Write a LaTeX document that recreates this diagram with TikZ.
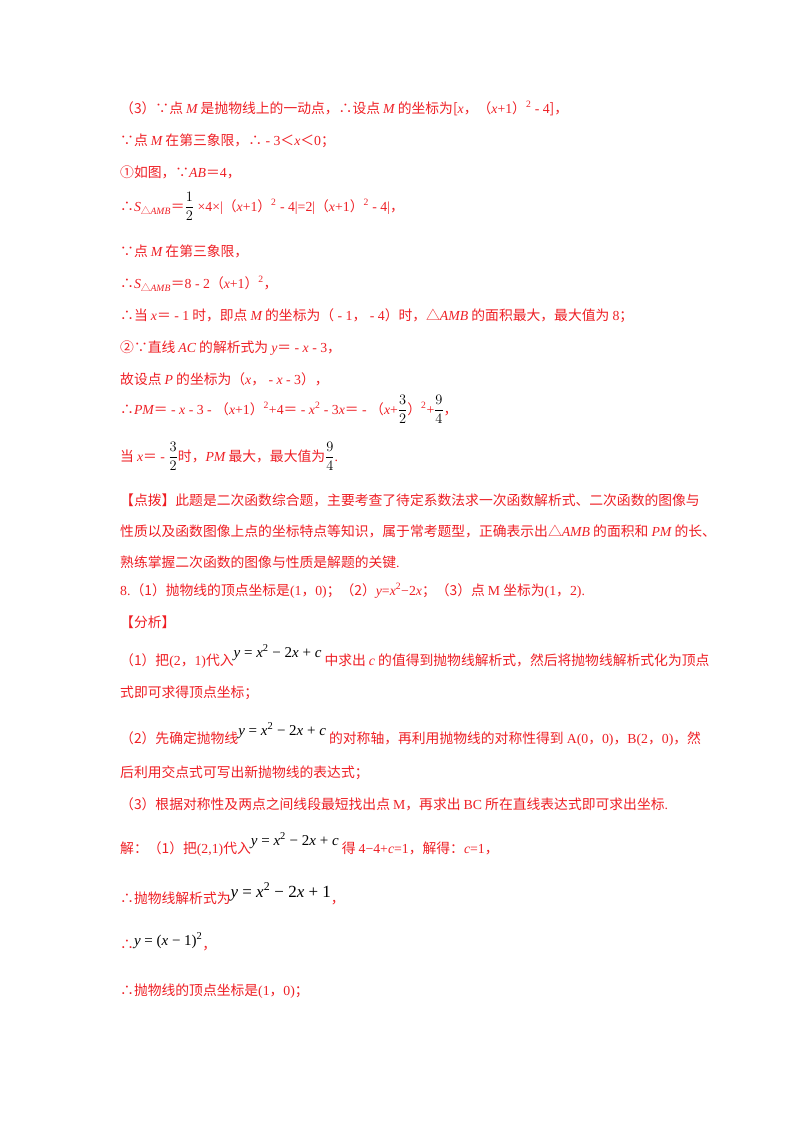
\documentclass[tikz,border=0pt]{standalone}
\usepackage{amsmath}
\usepackage{fontspec}
\setmainfont{Noto Sans CJK SC}
\newfontfamily\ti{Liberation Serif}
\newcommand{\iv}[1]{{\ti\itshape #1}}
\newcommand{\rmn}[1]{{\ti #1}}
\newcommand{\bk}[1]{{\color{black}#1}}
\newcommand{\eqc}[1]{{\color{black}\ti\fontsize{15}{16}\selectfont #1}}
\newcommand{\samb}{\iv{S}\textsubscript{△\ti\itshape AMB}}
\definecolor{rd}{RGB}{238,30,36}
\begin{document}
\begin{tikzpicture}[x=1pt,y=-1pt]
\useasboundingbox (0,0) rectangle (800,1132);
\tikzset{ln/.style={anchor=base west,inner sep=0pt,text=rd,font=\fontsize{13.8}{16}\selectfont}}
\node[ln] (l1) at (120,113) {（3）∵点 \iv{M} 是抛物线上的一动点，∴设点 \iv{M} 的坐标为[\iv{x}，（\iv{x}\rmn{+1}）\rmn{\textsuperscript{2} - 4}]，};
\node[ln] (l2) at (120,145) {∵点 \iv{M} 在第三象限，∴\rmn{ - 3}＜\iv{x}＜\rmn{0}；};
\node[ln] (l3) at (120,177) {①如图，∵\iv{AB}＝\rmn{4}，};
\node[ln] (l4) at (120,211) {∴\samb＝\bk{$\dfrac{1}{2}$}\rmn{ ×4×|}（\iv{x}\rmn{+1}）\rmn{\textsuperscript{2} - 4|=2|}（\iv{x}\rmn{+1}）\rmn{\textsuperscript{2} - 4|}，};
\node[ln] (l5) at (120,256) {∵点 \iv{M} 在第三象限，};
\node[ln] (l6) at (120,288) {∴\samb＝\rmn{8 - 2}（\iv{x}\rmn{+1}）\rmn{\textsuperscript{2}}，};
\node[ln] (l7) at (120,320) {∴当 \iv{x}＝\rmn{ - 1} 时，即点 \iv{M} 的坐标为（\rmn{ - 1}，\rmn{ - 4}）时，△\iv{AMB} 的面积最大，最大值为 \rmn{8}；};
\node[ln] (l8) at (120,352) {②∵直线 \iv{AC} 的解析式为 \iv{y}＝\rmn{ - }\iv{x}\rmn{ - 3}，};
\node[ln] (l9) at (120,384) {故设点 \iv{P} 的坐标为（\iv{x}，\rmn{ - }\iv{x}\rmn{ - 3}），};
\node[ln] (l10) at (120,414) {∴\iv{PM}＝\rmn{ - }\iv{x}\rmn{ - 3 - }（\iv{x}\rmn{+1}）\rmn{\textsuperscript{2}+4}＝\rmn{ - }\iv{x}\rmn{\textsuperscript{2} - 3}\iv{x}＝\rmn{ - }（\iv{x}\rmn{+}\bk{$\dfrac{3}{2}$}）\rmn{\textsuperscript{2}+}\bk{$\dfrac{9}{4}$}，};
\node[ln] (l11) at (120,461) {当 \iv{x}＝\rmn{ - }\bk{$\dfrac{3}{2}$}时，\iv{PM} 最大，最大值为\bk{$\dfrac{9}{4}$}\rmn{.}};
\node[ln] (l12) at (120,505) {【点拨】此题是二次函数综合题，主要考查了待定系数法求一次函数解析式、二次函数的图像与};
\node[ln] (l13) at (120,536) {性质以及函数图像上点的坐标特点等知识，属于常考题型，正确表示出△\iv{AMB} 的面积和 \iv{PM} 的长、};
\node[ln] (l14) at (120,567) {熟练掌握二次函数的图像与性质是解题的关键\rmn{.}};
\node[ln] (l15) at (120,595) {\rmn{8.}（1）抛物线的顶点坐标是\rmn{(1}，\rmn{0)}；（2）\iv{y}\rmn{=}\iv{x}\rmn{\textsuperscript{2}−2}\iv{x}；（3）点 \rmn{M} 坐标为\rmn{(1}，\rmn{2)}\rmn{.}};
\node[ln] (l16) at (120,627) {【分析】};
\node[ln] (l17) at (120,665) {（1）把\rmn{(2}，\rmn{1)}代入\raisebox{8pt}{\eqc{\iv{y} = \iv{x}\textsuperscript{2} − 2\iv{x} + \iv{c}}} 中求出 \iv{c} 的值得到抛物线解析式，然后将抛物线解析式化为顶点};
\node[ln] (l18) at (120,697) {式即可求得顶点坐标；};
\node[ln] (l19) at (120,743) {（2）先确定抛物线\raisebox{8pt}{\eqc{\iv{y} = \iv{x}\textsuperscript{2} − 2\iv{x} + \iv{c}}} 的对称轴，再利用抛物线的对称性得到 \rmn{A(0}，\rmn{0)}，\rmn{B(2}，\rmn{0)}，然};
\node[ln] (l20) at (120,777) {后利用交点式可写出新抛物线的表达式；};
\node[ln] (l21) at (120,809) {（3）根据对称性及两点之间线段最短找出点 \rmn{M}，再求出 \rmn{BC} 所在直线表达式即可求出坐标\rmn{.}};
\node[ln] (l22) at (120,853) {解：（1）把\rmn{(2,1)}代入\raisebox{8pt}{\eqc{\iv{y} = \iv{x}\textsuperscript{2} − 2\iv{x} + \iv{c}}} 得 \rmn{4−4+}\iv{c}\rmn{=1}，解得：\iv{c}\rmn{=1}，};
\node[ln] (l23) at (120,903) {∴抛物线解析式为\raisebox{6pt}{\eqc{\fontsize{17}{18}\selectfont\iv{y} = \iv{x}\textsuperscript{2} − 2\iv{x} + 1}}，};
\node[ln] (l24) at (120,949) {∴\raisebox{4pt}{\eqc{\iv{y} = (\iv{x} − 1)\textsuperscript{2}}}，};
\node[ln] (l25) at (120,995) {∴抛物线的顶点坐标是\rmn{(1}，\rmn{0)}；};
\end{tikzpicture}
\end{document}
